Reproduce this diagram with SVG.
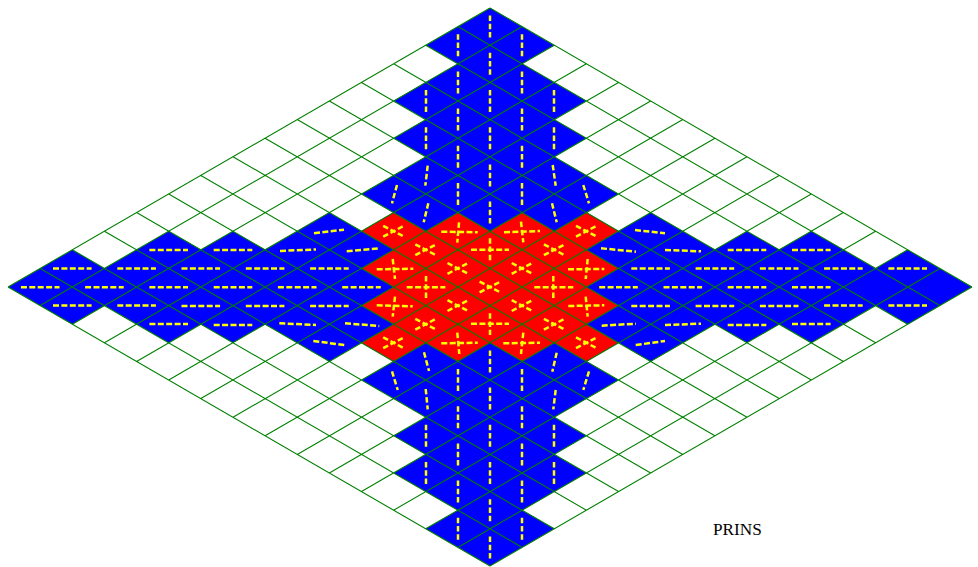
<svg xmlns="http://www.w3.org/2000/svg" width="978" height="567" viewBox="0 0 978 567">
<style>
.g{stroke:#008000;stroke-width:1.1;fill:none;vector-effect:non-scaling-stroke}
.d{stroke:#ffff00;stroke-width:2.5;stroke-dasharray:5.5 2.75;fill:none}
.l{stroke:#ffff00;stroke-width:2.5;stroke-dasharray:6 2.4;fill:none}
text{font-family:"Liberation Serif","Times New Roman",serif;font-size:17.2px;fill:#000}
</style>
<defs>
<line id="v" class="d" x1="0" y1="-11" x2="0" y2="11"/>
<line id="h" class="l" x1="-19.3" y1="0" x2="19.3" y2="0"/>
<g id="x"><line class="d" x1="-10.4" y1="-5.4" x2="10.4" y2="5.4"/><line class="d" x1="-10.4" y1="5.4" x2="10.4" y2="-5.4"/></g>
</defs>
<rect width="978" height="567" fill="#fff"/>
<g transform="translate(490 8) scale(32.13 18.6)">
<polygon id="blue" fill="#0000ff" points="0,0 2,2 1,3 3,5 2,6 3,7 2,8 4,10 3,11 4,12 5,11 7,13 8,12 9,13 10,12 12,14 13,13 15,15 13,17 12,16 10,18 9,17 8,18 7,17 5,19 4,18 3,19 4,20 2,22 3,23 2,24 3,25 1,27 2,28 0,30 -2,28 -1,27 -3,25 -2,24 -3,23 -2,22 -4,20 -3,19 -4,18 -5,19 -7,17 -8,18 -9,17 -10,18 -12,16 -13,17 -15,15 -13,13 -12,14 -10,12 -9,13 -8,12 -7,13 -5,11 -4,12 -3,11 -4,10 -2,8 -3,7 -2,6 -3,5 -1,3 -2,2"/>
<polygon id="red" fill="#ff0000" points="-3,11 -2,12 -1,11 0,12 1,11 2,12 3,11 4,12 3,13 4,14 3,15 4,16 3,17 4,18 3,19 2,18 1,19 0,18 -1,19 -2,18 -3,19 -4,18 -3,17 -4,16 -3,15 -4,14 -3,13 -4,12"/>
<path id="grid" class="g" d="M0 0L15 15M-1 1L14 16M-2 2L13 17M-3 3L12 18M-4 4L11 19M-5 5L10 20M-6 6L9 21M-7 7L8 22M-8 8L7 23M-9 9L6 24M-10 10L5 25M-11 11L4 26M-12 12L3 27M-13 13L2 28M-14 14L1 29M-15 15L0 30M0 0L-15 15M1 1L-14 16M2 2L-13 17M3 3L-12 18M4 4L-11 19M5 5L-10 20M6 6L-9 21M7 7L-8 22M8 8L-7 23M9 9L-6 24M10 10L-5 25M11 11L-4 26M12 12L-3 27M13 13L-2 28M14 14L-1 29M15 15L0 30"/>
</g>
<g id="vertical-dashes">
<use href="#v" x="490" y="26.6"/><use href="#v" x="490" y="63.8"/><use href="#v" x="490" y="101"/><use href="#v" x="490" y="138.2"/><use href="#v" x="490" y="175.4"/><use href="#v" x="490" y="212.6"/>
<use href="#v" x="490" y="361.4"/><use href="#v" x="490" y="398.6"/><use href="#v" x="490" y="435.8"/><use href="#v" x="490" y="473"/><use href="#v" x="490" y="510.2"/><use href="#v" x="490" y="547.4"/>
<use href="#v" x="458" y="45.2"/><use href="#v" x="458" y="82.4"/><use href="#v" x="458" y="119.6"/><use href="#v" x="458" y="156.8"/><use href="#v" x="458" y="194"/>
<use href="#v" x="522" y="45.2"/><use href="#v" x="522" y="82.4"/><use href="#v" x="522" y="119.6"/><use href="#v" x="522" y="156.8"/><use href="#v" x="522" y="194"/>
<use href="#v" x="458" y="380"/><use href="#v" x="458" y="417.2"/><use href="#v" x="458" y="454.4"/><use href="#v" x="458" y="491.6"/><use href="#v" x="458" y="528.8"/>
<use href="#v" x="522" y="380"/><use href="#v" x="522" y="417.2"/><use href="#v" x="522" y="454.4"/><use href="#v" x="522" y="491.6"/><use href="#v" x="522" y="528.8"/>
<use href="#v" x="426" y="101"/><use href="#v" x="426" y="138.2"/><use href="#v" x="554" y="101"/><use href="#v" x="554" y="138.2"/>
<use href="#v" x="426" y="435.8"/><use href="#v" x="426" y="473"/><use href="#v" x="554" y="435.8"/><use href="#v" x="554" y="473"/>
<line class="d" x1="427.7" y1="165.7" x2="425.3" y2="185.7"/><line class="d" x1="552.7" y1="165" x2="555.7" y2="185.7"/>
<line class="d" x1="397" y1="185" x2="392" y2="203.3"/><line class="d" x1="583.3" y1="185" x2="589" y2="203.3"/>
<line class="d" x1="428.3" y1="203.3" x2="423.7" y2="222.3"/><line class="d" x1="552" y1="203.3" x2="556.7" y2="222.3"/>
<line class="d" x1="424" y1="352.3" x2="429" y2="371"/><line class="d" x1="556.7" y1="352.7" x2="552.3" y2="371.7"/>
<line class="d" x1="392" y1="371.3" x2="397.7" y2="390"/><line class="d" x1="589" y1="371.3" x2="583.3" y2="390"/>
<line class="d" x1="425.7" y1="389" x2="427.7" y2="409.3"/><line class="d" x1="555.7" y1="390" x2="553.3" y2="409.3"/>
</g>
<g id="horizontal-dashes">
<use href="#h" x="168.7" y="250"/><use href="#h" x="233" y="250"/><use href="#h" x="747" y="250"/><use href="#h" x="811.3" y="250"/>
<use href="#h" x="72.3" y="268.6"/><use href="#h" x="136.6" y="268.6"/><use href="#h" x="200.8" y="268.6"/><use href="#h" x="265.1" y="268.6"/><use href="#h" x="329.4" y="268.6"/>
<use href="#h" x="650.6" y="268.6"/><use href="#h" x="714.9" y="268.6"/><use href="#h" x="779.2" y="268.6"/><use href="#h" x="843.4" y="268.6"/><use href="#h" x="907.7" y="268.6"/>
<use href="#h" x="40.2" y="287.3"/><use href="#h" x="104.4" y="287.3"/><use href="#h" x="168.7" y="287.3"/><use href="#h" x="233" y="287.3"/><use href="#h" x="297.2" y="287.3"/><use href="#h" x="361.5" y="287.3"/>
<use href="#h" x="618.5" y="287.3"/><use href="#h" x="682.8" y="287.3"/><use href="#h" x="747" y="287.3"/><use href="#h" x="811.3" y="287.3"/>
<use href="#h" x="72.3" y="305.4"/><use href="#h" x="136.6" y="305.4"/><use href="#h" x="200.8" y="306"/><use href="#h" x="265.1" y="306"/><use href="#h" x="329.4" y="306"/>
<use href="#h" x="650.6" y="306"/><use href="#h" x="714.9" y="306"/><use href="#h" x="779.2" y="306"/><use href="#h" x="843.4" y="305.4"/><use href="#h" x="907.7" y="305.4"/>
<use href="#h" x="168.7" y="324"/><use href="#h" x="233" y="325"/><use href="#h" x="747" y="325"/><use href="#h" x="811.3" y="324"/>
<line class="l" x1="280" y1="250.9" x2="316" y2="249.5"/><line class="l" x1="314" y1="233.3" x2="344" y2="229.7"/><line class="l" x1="346.7" y1="251.3" x2="379.3" y2="248.3"/>
<line class="l" x1="279.3" y1="323.3" x2="316" y2="325"/><line class="l" x1="313.3" y1="341" x2="344.3" y2="345"/><line class="l" x1="345" y1="323.3" x2="379.3" y2="326"/>
<line class="l" x1="601" y1="248.3" x2="636" y2="251.7"/><line class="l" x1="635" y1="230" x2="665" y2="233.3"/><line class="l" x1="665" y1="250" x2="701" y2="251.3"/>
<line class="l" x1="601.7" y1="325.7" x2="636" y2="323.7"/><line class="l" x1="635.7" y1="345" x2="665" y2="341"/><line class="l" x1="665" y1="325" x2="701" y2="323.7"/>
</g>
<g id="plus-dashes">
<line class="l" x1="441.3" y1="231.7" x2="477.7" y2="232.3"/><line class="d" x1="459" y1="222.3" x2="457.3" y2="242.7"/>
<line class="l" x1="504" y1="232.3" x2="540" y2="231"/><line class="d" x1="521" y1="221.7" x2="523.3" y2="242.3"/>
<line class="l" x1="471" y1="249.7" x2="509" y2="249.7"/><line class="d" x1="490" y1="238.3" x2="490" y2="260.7"/>
<line class="l" x1="376.7" y1="269.3" x2="413.3" y2="268.7"/><line class="d" x1="392.7" y1="259" x2="395" y2="279"/>
<line class="l" x1="568" y1="269.3" x2="604.3" y2="269"/><line class="d" x1="587.7" y1="259" x2="585.7" y2="279"/>
<line class="l" x1="406.7" y1="287.3" x2="445.3" y2="287.3"/><line class="d" x1="426" y1="276" x2="426" y2="298.3"/>
<line class="l" x1="534.3" y1="287.3" x2="573.3" y2="287.3"/><line class="d" x1="553.3" y1="276" x2="553.3" y2="298.3"/>
<line class="l" x1="376.7" y1="305.3" x2="412.7" y2="306.3"/><line class="d" x1="395" y1="296.7" x2="392.7" y2="316.7"/>
<line class="l" x1="568.3" y1="306" x2="604.3" y2="305.3"/><line class="d" x1="585.7" y1="296.7" x2="587.7" y2="316.7"/>
<line class="l" x1="471" y1="323.7" x2="509" y2="323.7"/><line class="d" x1="490" y1="313.3" x2="490" y2="335"/>
<line class="l" x1="441.3" y1="343.3" x2="477.7" y2="342.7"/><line class="d" x1="457.3" y1="332.7" x2="459.3" y2="354"/>
<line class="l" x1="503.3" y1="343.3" x2="540" y2="342.7"/><line class="d" x1="523.3" y1="332.7" x2="521" y2="354"/>
</g>
<g id="cross-dashes">
<use href="#x" x="393.6" y="231.2"/><use href="#x" x="586.4" y="231.2"/>
<use href="#x" x="425.7" y="249.8"/><use href="#x" x="554.3" y="249.8"/>
<use href="#x" x="457.9" y="268.4"/><use href="#x" x="522.1" y="268.4"/>
<use href="#x" x="490" y="287"/>
<use href="#x" x="457.9" y="305.6"/><use href="#x" x="522.1" y="305.6"/>
<use href="#x" x="425.7" y="324.2"/><use href="#x" x="554.3" y="324.2"/>
<use href="#x" x="393.6" y="342.8"/><use href="#x" x="586.4" y="342.8"/>
</g>
<text id="label" x="713" y="535">PRINS</text>
</svg>
